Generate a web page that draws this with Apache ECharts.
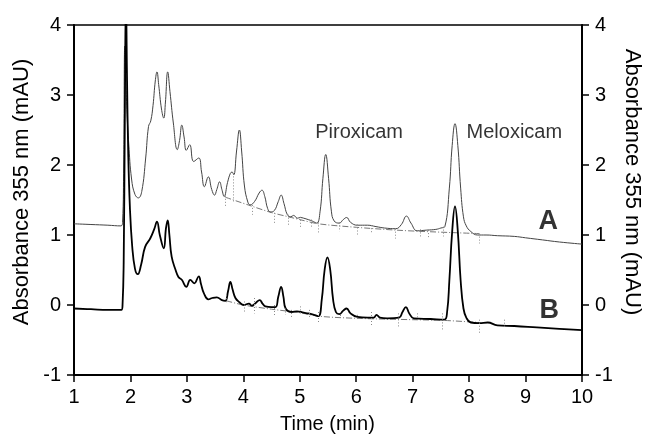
<!DOCTYPE html>
<html>
<head>
<meta charset="utf-8">
<script src="https://cdn.jsdelivr.net/npm/echarts@6/dist/echarts.min.js"></script>
<style>
  html, body { margin: 0; padding: 0; background: #fff; }
  #main { width: 645px; height: 443px; }
</style>
</head>
<body>
<div id="main"></div>
<script>
(function () {
  'use strict';

  // trace A (upper, grey) - [time, absorbance]
  var traceA = [
    [1.0, 1.16], [1.3, 1.15], [1.6, 1.14], [1.83, 1.13], [1.86, 1.18], [1.88, 2.0],
    [1.9, 3.7], [1.92, 3.2], [1.94, 2.72], [1.97, 2.3], [2.02, 1.8], [2.08, 1.58],
    [2.14, 1.53], [2.2, 1.62], [2.27, 2.1], [2.32, 2.55], [2.36, 2.63], [2.4, 2.85],
    [2.44, 3.2], [2.47, 3.33], [2.5, 3.15], [2.55, 2.8], [2.59, 2.67], [2.62, 2.9],
    [2.66, 3.33], [2.7, 3.05], [2.76, 2.6], [2.83, 2.22], [2.87, 2.35], [2.91, 2.57],
    [2.95, 2.4], [2.99, 2.21], [3.05, 2.29], [3.12, 2.05], [3.21, 2.1], [3.26, 1.9],
    [3.31, 1.69], [3.38, 1.83], [3.44, 1.65], [3.49, 1.57], [3.53, 1.65], [3.58, 1.76],
    [3.62, 1.65], [3.66, 1.55], [3.72, 1.75], [3.77, 1.88], [3.8, 1.9], [3.83, 1.86],
    [3.88, 2.2], [3.93, 2.5], [3.97, 2.2], [4.02, 1.7], [4.08, 1.47], [4.12, 1.43],
    [4.2, 1.48], [4.28, 1.6], [4.33, 1.64], [4.38, 1.55], [4.43, 1.38], [4.48, 1.33],
    [4.55, 1.35], [4.62, 1.48], [4.67, 1.57], [4.72, 1.45], [4.78, 1.29], [4.84, 1.26],
    [4.89, 1.28], [4.96, 1.24], [5.01, 1.25], [5.07, 1.24], [5.15, 1.22], [5.22, 1.2],
    [5.3, 1.17], [5.36, 1.34], [5.41, 1.81], [5.46, 2.15], [5.51, 1.81], [5.56, 1.34],
    [5.61, 1.2], [5.7, 1.17], [5.77, 1.22], [5.83, 1.25], [5.9, 1.18], [6.02, 1.14],
    [6.2, 1.14], [6.35, 1.12], [6.5, 1.1], [6.7, 1.09], [6.8, 1.15], [6.89, 1.27],
    [6.97, 1.17], [7.08, 1.06], [7.25, 1.07], [7.41, 1.08], [7.5, 1.1], [7.57, 1.12],
    [7.65, 1.67], [7.7, 2.28], [7.75, 2.59], [7.8, 2.28], [7.85, 1.67], [7.9, 1.26],
    [7.95, 1.13], [8.03, 1.05], [8.15, 1.0], [8.3, 1.0], [8.5, 0.99], [8.8, 0.98],
    [9.0, 0.96], [9.3, 0.93], [9.6, 0.9], [10.0, 0.87]
  ];

  // trace B (lower, black)
  var traceB = [
    [1.0, -0.05], [1.3, -0.06], [1.6, -0.07], [1.84, -0.07], [1.86, 0.0], [1.88, 0.6],
    [1.9, 2.6], [1.92, 4.4], [1.94, 3.2], [1.96, 2.2], [1.99, 1.4], [2.03, 0.85],
    [2.08, 0.52], [2.13, 0.44], [2.19, 0.58], [2.26, 0.83], [2.35, 0.95], [2.42, 1.08],
    [2.47, 1.19], [2.52, 1.0], [2.59, 0.81], [2.63, 1.1], [2.66, 1.21], [2.69, 1.0],
    [2.73, 0.69], [2.8, 0.5], [2.85, 0.4], [2.91, 0.36], [2.99, 0.26], [3.06, 0.36],
    [3.13, 0.31], [3.21, 0.41], [3.25, 0.3], [3.3, 0.17], [3.38, 0.08], [3.45, 0.1],
    [3.53, 0.11], [3.62, 0.07], [3.68, 0.06], [3.73, 0.2], [3.77, 0.33], [3.81, 0.22],
    [3.86, 0.1], [3.93, 0.04], [4.01, 0.0], [4.1, 0.02], [4.15, -0.01], [4.22, 0.03],
    [4.29, 0.07], [4.34, 0.02], [4.39, -0.02], [4.5, -0.03], [4.57, -0.03], [4.62, 0.12],
    [4.67, 0.26], [4.71, 0.12], [4.75, -0.05], [4.86, -0.1], [4.95, -0.09], [5.07, -0.11],
    [5.15, -0.12], [5.25, -0.14], [5.33, -0.16], [5.39, 0.08], [5.44, 0.5], [5.49, 0.68],
    [5.54, 0.5], [5.59, 0.08], [5.64, -0.1], [5.7, -0.13], [5.77, -0.08], [5.83, -0.05],
    [5.9, -0.12], [6.02, -0.17], [6.2, -0.18], [6.31, -0.18], [6.36, -0.14], [6.42, -0.18],
    [6.55, -0.19], [6.76, -0.18], [6.82, -0.1], [6.88, -0.03], [6.94, -0.12], [7.02, -0.19],
    [7.32, -0.2], [7.56, -0.21], [7.61, -0.1], [7.65, 0.35], [7.7, 1.05], [7.75, 1.41],
    [7.8, 1.05], [7.85, 0.35], [7.9, -0.05], [7.95, -0.18], [8.03, -0.25], [8.18, -0.26],
    [8.33, -0.25], [8.5, -0.29], [8.8, -0.3], [9.2, -0.32], [9.6, -0.34], [10.0, -0.36]
  ];

  // integration baselines (dash-dot)
  var baseA = [[3.68, 1.54], [4.12, 1.42], [4.5, 1.32], [4.8, 1.26], [5.0, 1.22], [5.33, 1.16],
    [6.0, 1.11], [6.7, 1.07], [7.2, 1.05], [8.18, 1.02]];
  var baseB = [[3.7, 0.06], [4.0, 0.0], [4.5, -0.06], [5.0, -0.11], [5.33, -0.16], [6.0, -0.19],
    [7.0, -0.21], [7.55, -0.22], [8.18, -0.25]];

  // peak boundary markers: [time, top, bottom]
  var marksA = [[3.68, 1.56, 1.41], [3.83, 1.88, 1.47], [4.15, 1.43, 1.29], [4.55, 1.36, 1.17],
    [4.8, 1.29, 1.12], [5.01, 1.26, 1.1], [5.21, 1.22, 1.1], [5.33, 1.18, 1.03], [5.7, 1.18, 1.05],
    [6.02, 1.15, 1.0], [6.26, 1.14, 1.02], [6.7, 1.09, 0.95], [7.13, 1.08, 0.98], [7.27, 1.07, 0.95],
    [7.55, 1.12, 0.98], [8.18, 1.02, 0.88]];
  var marksB = [[3.7, 0.14, 0.02], [4.01, 0.05, -0.12], [4.2, 0.1, -0.12], [4.55, 0.0, -0.17],
    [4.75, -0.05, -0.14], [4.85, -0.07, -0.17], [5.01, -0.02, -0.14], [5.16, -0.07, -0.17],
    [5.32, -0.1, -0.26], [5.71, -0.1, -0.17], [6.02, -0.14, -0.21], [6.27, -0.1, -0.31],
    [6.74, -0.12, -0.31], [7.08, -0.12, -0.21], [7.53, -0.12, -0.36], [8.18, -0.21, -0.4],
    [8.63, -0.21, -0.31]];

  // annotations: [text, time, absorbance]
  var notes = [['Piroxicam', 6.06, 2.46], ['Meloxicam', 8.81, 2.46]];
  var traceNames = [['A', 9.41, 1.19], ['B', 9.43, -0.09]];

  var xTicks = [1, 2, 3, 4, 5, 6, 7, 8, 9, 10];
  var yTicks = [-1, 0, 1, 2, 3, 4];

  var font = 'Liberation Sans, Arial, sans-serif';

  function markLines(list) {
    return list.map(function (m) {
      return [{ coord: [m[0], m[1]] }, { coord: [m[0], m[2]] }];
    });
  }

  function yAxisOf(pos) {
    return {
      type: 'value', position: pos,
      min: yTicks[0], max: yTicks[yTicks.length - 1], interval: 1,
      axisLine: { show: true, onZero: false, lineStyle: { color: '#000', width: 2 } },
      axisTick: { show: true, length: 7, lineStyle: { color: '#000', width: 1.5 } },
      axisLabel: { margin: 13, color: '#000', fontSize: 20, fontFamily: font },
      splitLine: { show: false }
    };
  }

  function textSeries(name, list, size, weight) {
    return {
      name: name, type: 'scatter', symbolSize: 1, z: 5,
      itemStyle: { color: 'rgba(0,0,0,0)' },
      data: list.map(function (n) { return { value: [n[1], n[2]], name: n[0] }; }),
      label: {
        show: true, position: [0, 0], align: 'center', verticalAlign: 'middle',
        formatter: '{b}', color: '#000', fontSize: size, fontWeight: weight, fontFamily: font
      }
    };
  }

  var myChart = echarts.init(document.getElementById('main'), null, { renderer: 'canvas' });

  var option = {
    backgroundColor: '#fff',
    animation: false,
    grid: { left: 74, right: 63, top: 25, bottom: 68, show: true, borderColor: '#000', borderWidth: 1.5 },
    xAxis: {
      type: 'value', min: xTicks[0], max: xTicks[xTicks.length - 1], interval: 1,
      axisLine: { show: true, onZero: false, lineStyle: { color: '#000', width: 2 } },
      axisTick: { show: true, length: 7, lineStyle: { color: '#000', width: 1.5 } },
      axisLabel: { margin: 12, color: '#000', fontSize: 20, fontFamily: font },
      splitLine: { show: false }
    },
    yAxis: [yAxisOf('left'), yAxisOf('right')],
    graphic: [
      {
        type: 'text', left: 280, top: 414,
        style: { text: 'Time (min)', fill: '#000', font: '20px ' + font }
      },
      {
        type: 'text', x: 22, y: 192, rotation: Math.PI / 2,
        style: { text: 'Absorbance 355 nm (mAU)', fill: '#000', font: '22px ' + font,
          align: 'center', verticalAlign: 'middle' }
      },
      {
        type: 'text', x: 632, y: 182, rotation: -Math.PI / 2,
        style: { text: 'Absorbance 355 nm (mAU)', fill: '#000', font: '22px ' + font,
          align: 'center', verticalAlign: 'middle' }
      }
    ],
    series: [
      {
        name: 'A', type: 'line', data: traceA, showSymbol: false, smooth: 0.45,
        lineStyle: { color: '#444', width: 1 }, z: 3
      },
      {
        name: 'B', type: 'line', data: traceB, showSymbol: false, smooth: 0.45,
        lineStyle: { color: '#000', width: 1.8 }, z: 4
      },
      {
        name: 'baseA', type: 'line', data: baseA, showSymbol: false, smooth: 0.3,
        lineStyle: { color: '#777', width: 1, type: [6, 2, 1, 2] }, z: 2,
        markLine: {
          silent: true, symbol: 'none', label: { show: false },
          lineStyle: { color: '#888', width: 1, type: [1, 2] },
          data: markLines(marksA)
        }
      },
      {
        name: 'baseB', type: 'line', data: baseB, showSymbol: false, smooth: 0.3,
        lineStyle: { color: '#777', width: 1, type: [6, 2, 1, 2] }, z: 2,
        markLine: {
          silent: true, symbol: 'none', label: { show: false },
          lineStyle: { color: '#888', width: 1, type: [1, 2] },
          data: markLines(marksB)
        }
      },
      textSeries('notes', notes, 20, 'normal'),
      textSeries('traceNames', traceNames, 27, 'bold')
    ]
  };

  myChart.setOption(option);
  window.addEventListener('resize', function () {
    myChart.resize();
  });
})();
</script>
</body>
</html>
